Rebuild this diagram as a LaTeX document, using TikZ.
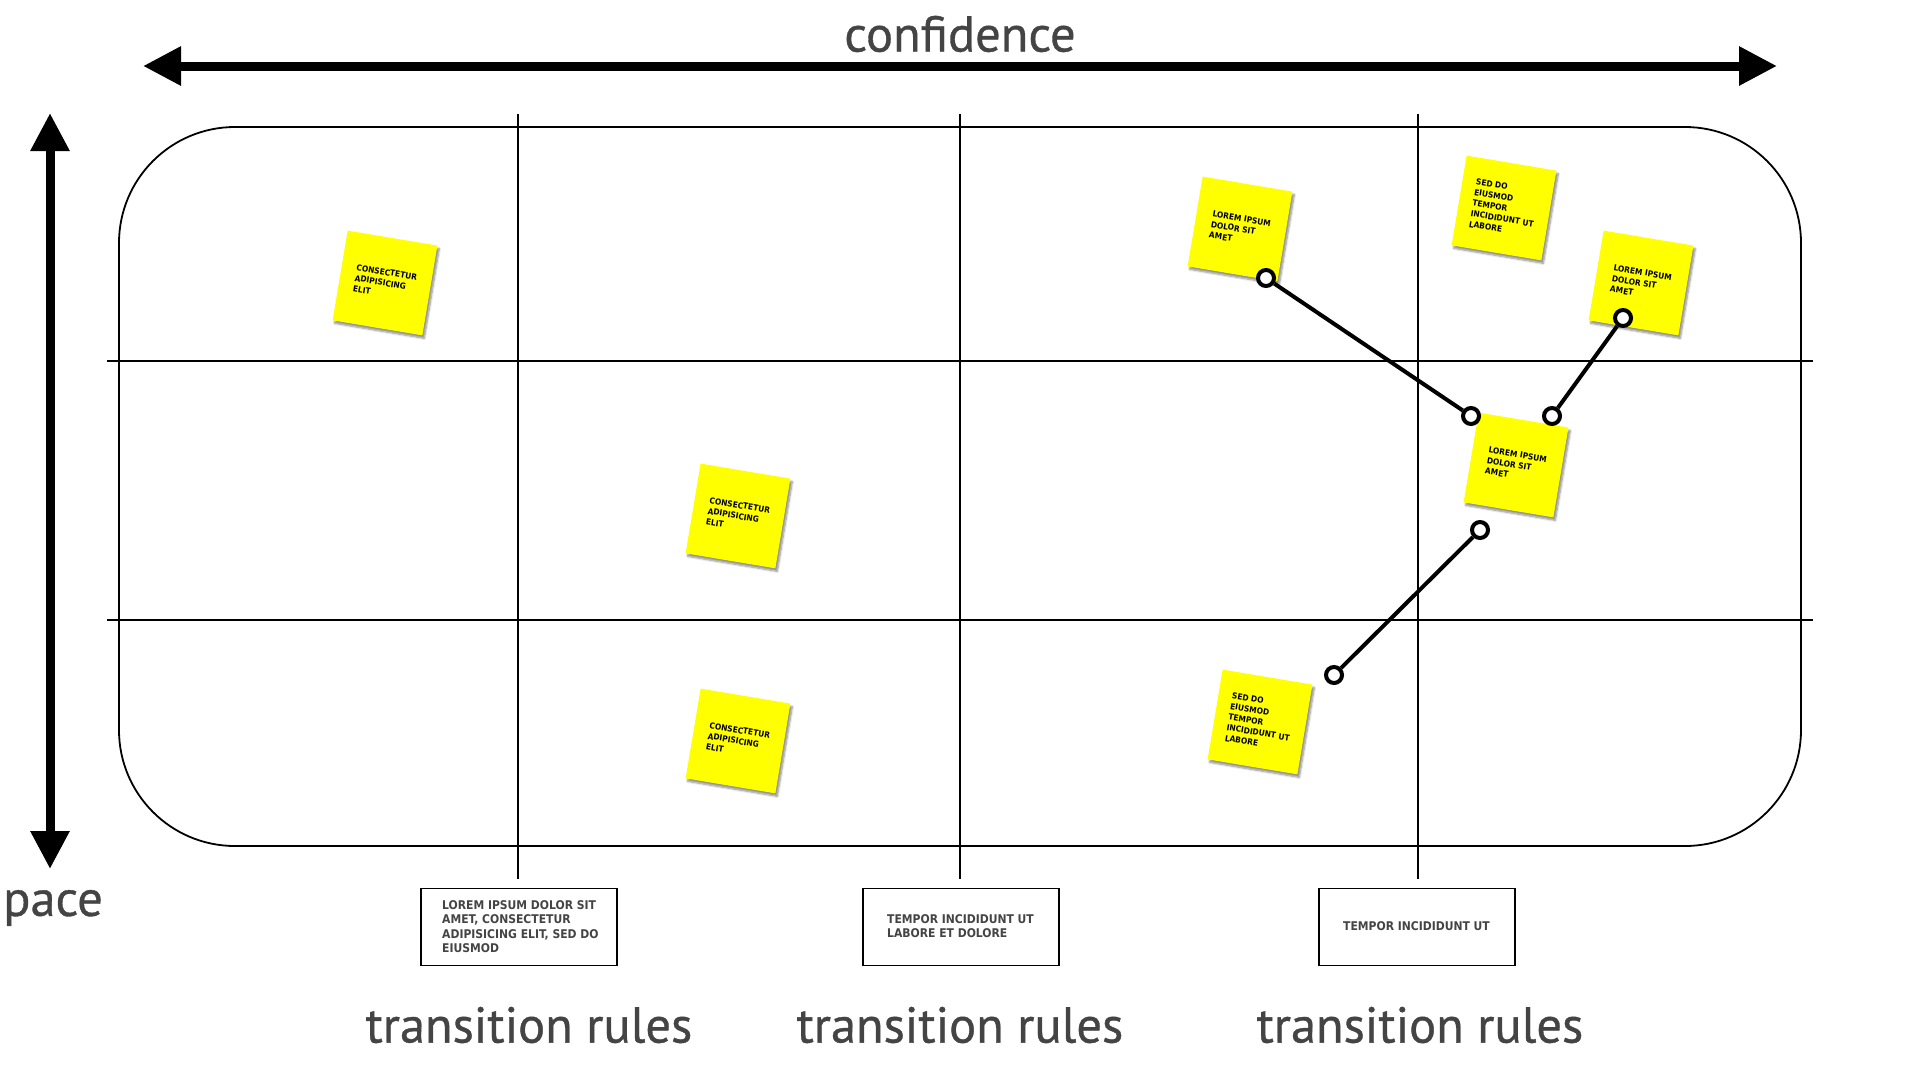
\documentclass[tikz,border=0pt]{standalone}
\usepackage{fontspec}
\setmainfont{PT Sans}
\newfontfamily\labfont[FakeBold=0.7]{PT Sans}
\newfontfamily\notefont{DejaVu Sans Condensed}
\usetikzlibrary{arrows.meta,shadows.blur}
\definecolor{labelgray}{HTML}{444444}
\definecolor{noteyellow}{HTML}{FFFF00}
\tikzset{
  bigarrow/.style={line width=9pt, {Triangle[length=38pt,width=37pt]}-{Triangle[length=38pt,width=37pt]}},
  gridline/.style={line width=1.5pt, black},
  sticky/.style={fill=noteyellow, minimum width=91pt, minimum height=91pt, inner sep=0pt,
    blur shadow={shadow xshift=2pt, shadow yshift=-3pt, shadow blur steps=6, shadow opacity=45},
    font=\notefont\bfseries\fontsize{8.3}{10.8}\selectfont, align=left, text=black},
  rulebox/.style={draw, line width=1.5pt, minimum width=196pt, minimum height=77pt, inner sep=0pt},
  ruletext/.style={font=\notefont\bfseries\fontsize{12}{14.5}\selectfont, text=labelgray, align=left, anchor=north west, inner sep=0pt},
  biglabel/.style={font=\labfont\fontsize{50.5}{54}\selectfont, text=labelgray},
  pin/.style={circle, draw, line width=4pt, fill=white, minimum size=16pt, inner sep=0pt},
  link/.style={line width=4pt},
}
\begin{document}
\begin{tikzpicture}[x=1pt,y=-1pt]
\useasboundingbox (0,0) rectangle (1920,1080);
% axes
\coordinate (cl) at (143,66);
\coordinate (cr) at (1777,66);
\draw[bigarrow] (cl) -- (cr);
\node[biglabel] (conf) at (960,34) {confidence};
\coordinate (pt) at (50,113);
\coordinate (pb) at (50,869);
\draw[bigarrow] (pt) -- (pb);
\node[biglabel] (pace) at (53,908) {pace};
% board
\draw[line width=1.8pt, rounded corners=116pt] (119,127) rectangle (1801,846);
\draw[gridline] (518,114) -- (518,879);
\draw[gridline] (960,114) -- (960,879);
\draw[gridline] (1418,114) -- (1418,879);
\draw[gridline] (107,361) -- (1813,361);
\draw[gridline] (107,620) -- (1813,620);
% sticky notes
\node[sticky, rotate=-9.5] (n1) at (385,283) {CONSECTETUR\\ADIPISICING\\ELIT};
\node[sticky, rotate=-9.5] (n2) at (738,516) {CONSECTETUR\\ADIPISICING\\ELIT};
\node[sticky, rotate=-9.5] (n3) at (738,741) {CONSECTETUR\\ADIPISICING\\ELIT};
\node[sticky, rotate=-9.5] (n4) at (1240,229) {LOREM IPSUM\\DOLOR SIT\\AMET};
\node[sticky, rotate=-9.5] (n5) at (1504,208) {SED DO\\EIUSMOD\\TEMPOR\\INCIDIDUNT UT\\LABORE};
\node[sticky, rotate=-9.5] (n6) at (1641,283) {LOREM IPSUM\\DOLOR SIT\\AMET};
\node[sticky, rotate=-9.5] (n7) at (1516,465) {LOREM IPSUM\\DOLOR SIT\\AMET};
\node[sticky, rotate=-9.5] (n8) at (1260,722) {SED DO\\EIUSMOD\\TEMPOR\\INCIDIDUNT UT\\LABORE};
% connectors
\node[pin] (a1) at (1266,278) {};
\node[pin] (a2) at (1471,416) {};
\node[pin] (b1) at (1623,318) {};
\node[pin] (b2) at (1552,416) {};
\node[pin] (c1) at (1480,530) {};
\node[pin] (c2) at (1334,675) {};
\draw[link] (a1) -- (a2);
\draw[link] (b1) -- (b2);
\draw[link] (c1) -- (c2);
% rule boxes
\node[rulebox] (r1) at (519,927) {};
\node[rulebox] (r2) at (961,927) {};
\node[rulebox] (r3) at (1417,927) {};
\node[ruletext] (t1) at (442,900) {LOREM IPSUM DOLOR SIT\\AMET, CONSECTETUR\\ADIPISICING ELIT, SED DO\\EIUSMOD};
\node[ruletext] (t2) at (887,914) {TEMPOR INCIDIDUNT UT\\LABORE ET DOLORE};
\node[ruletext] (t3) at (1343,921) {TEMPOR INCIDIDUNT UT};
% labels
\node[biglabel] (l1) at (529,1025) {transition rules};
\node[biglabel] (l2) at (960,1025) {transition rules};
\node[biglabel] (l3) at (1420,1025) {transition rules};
\end{tikzpicture}
\end{document}
